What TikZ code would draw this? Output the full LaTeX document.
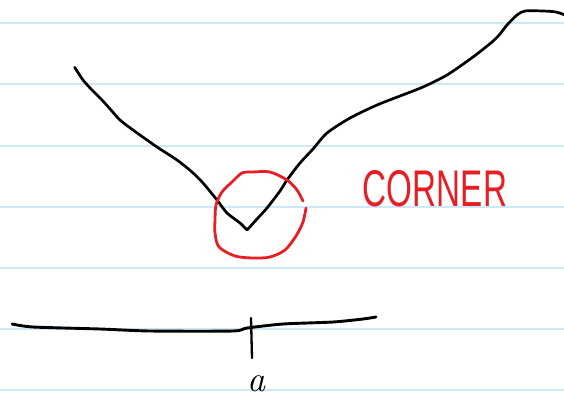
\documentclass[tikz,border=0pt]{standalone}
\usepackage{fontspec}
\newfontfamily\handfont{Liberation Sans}
\definecolor{paperline}{RGB}{205,232,247}
\definecolor{penred}{RGB}{230,30,38}
\begin{document}
\begin{tikzpicture}[x=1pt,y=-1pt,
  ruled/.style={paperline,line width=2pt},
  pen/.style={black,line width=2.7pt,line cap=round,line join=round},
  redpen/.style={penred,line width=2.8pt,line cap=round,line join=round}]
\useasboundingbox (0,0) rectangle (564,399);
\clip (0,0) rectangle (564,399);
\fill[white] (0,0) rectangle (564,399);
% ruled lines
\foreach \yy in {23,84,145.7,206.7,267.7,329,390}
  \draw[ruled] (0,\yy) -- (564,\yy);
% the curve with a corner
\draw[pen] plot[smooth,tension=0.45] coordinates {(74.7,67.3) (83,80) (92,90) (102,100) (111,110) (120,120) (133,130) (157,147) (177,160) (192,172) (203,183) (217,200) (227,213) (240,223) (247,230)};
\draw[pen] plot[smooth,tension=0.45] coordinates {(247,230) (257,219) (267,208) (280,191) (287,180) (300,163) (313,149) (327,133) (350,118) (377,105) (400,96) (423,87) (447,75) (473,57) (492,42) (500,34) (507,25) (517,15) (525,11) (543,11) (556,12) (565,15)};
% red circle
\draw[redpen] plot[smooth,tension=0.5] coordinates {(303,201) (297,190) (287,180) (270,172) (253,172) (242,173) (232,182) (222,192) (216,205) (215,220) (215,233) (219,247) (235,256) (253,258) (270,257) (285,250) (296,236) (303,222) (306,208)};
% CORNER label
\node[penred,inner sep=0pt] (corner) at (435,189) {\resizebox{144pt}{36pt}{\handfont CORNER}};
% axis with tick
\draw[pen,line width=2.9pt] plot[smooth,tension=0.4] coordinates {(12,324) (33,327) (100,329) (150,331) (233,331) (247,328) (283,324) (333,322) (363,319) (376,317)};
\coordinate (ticktop) at (251,318);
\coordinate (tickbot) at (252,358);
\draw[pen,line width=2.3pt] (ticktop) -- (tickbot);
\node[anchor=base,inner sep=0pt] (alabel) at (256,391) {\fontsize{36}{36}\selectfont\itshape a};
\end{tikzpicture}
\end{document}
